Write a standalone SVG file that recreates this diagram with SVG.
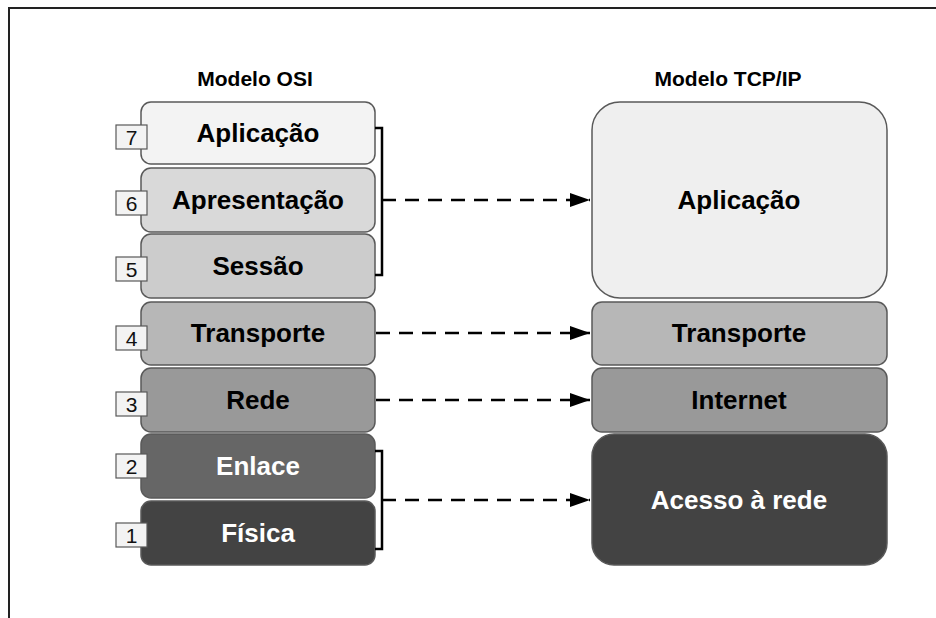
<svg xmlns="http://www.w3.org/2000/svg" width="936" height="618" viewBox="0 0 936 618">
<defs>
<style>
.box{stroke:#595959;stroke-width:1.5}
.lbl{font-family:"Liberation Sans",Arial,sans-serif;font-weight:bold;font-size:26px;text-anchor:middle}
.title{font-family:"Liberation Sans",Arial,sans-serif;font-weight:bold;font-size:21px;text-anchor:middle;fill:#000}
.num{fill:#f3f3f3;stroke:#595959;stroke-width:1.2}
.numt{font-family:"Liberation Sans",Arial,sans-serif;font-size:21px;text-anchor:middle;fill:#111}
.dark{fill:#000}
.light{fill:#fff}
.conn{fill:none;stroke:#000;stroke-width:2.5}
.dash{stroke-dasharray:14 9}
</style>
<marker id="arr" viewBox="0 0 20 14" refX="20" refY="7" markerWidth="20" markerHeight="14" markerUnits="userSpaceOnUse" orient="auto">
<path d="M0,0 L20,7 L0,14 z" fill="#000"/>
</marker>
</defs>
<rect width="936" height="618" fill="#fff"/>
<path d="M9,618 V8 H936" fill="none" stroke="#222" stroke-width="2"/>

<text class="title" x="255" y="86">Modelo OSI</text>
<text class="title" x="728" y="86">Modelo TCP/IP</text>

<g id="osi7"><rect class="box" x="141" y="102" width="234" height="62" rx="10" fill="#f3f3f3"/><text class="lbl dark" x="258" y="142">Aplicação</text><rect class="num" x="116" y="125" width="31" height="24"/><text class="numt" x="131.5" y="145">7</text></g>
<g id="osi6"><rect class="box" x="141" y="168" width="234" height="64" rx="10" fill="#d9d9d9"/><text class="lbl dark" x="258" y="209">Apresentação</text><rect class="num" x="116" y="191" width="31" height="24"/><text class="numt" x="131.5" y="211">6</text></g>
<g id="osi5"><rect class="box" x="141" y="234" width="234" height="64" rx="10" fill="#cccccc"/><text class="lbl dark" x="258" y="275">Sessão</text><rect class="num" x="116" y="257" width="31" height="24"/><text class="numt" x="131.5" y="277">5</text></g>
<g id="osi4"><rect class="box" x="141" y="302" width="234" height="63" rx="10" fill="#b7b7b7"/><text class="lbl dark" x="258" y="342">Transporte</text><rect class="num" x="116" y="326" width="31" height="24"/><text class="numt" x="131.5" y="346">4</text></g>
<g id="osi3"><rect class="box" x="141" y="368" width="234" height="64" rx="10" fill="#999999"/><text class="lbl dark" x="258" y="409">Rede</text><rect class="num" x="116" y="392" width="31" height="24"/><text class="numt" x="131.5" y="412">3</text></g>
<g id="osi2"><rect class="box" x="141" y="434" width="234" height="64" rx="10" fill="#666666"/><text class="lbl light" x="258" y="475">Enlace</text><rect class="num" x="116" y="454" width="31" height="24"/><text class="numt" x="131.5" y="474">2</text></g>
<g id="osi1"><rect class="box" x="141" y="501" width="234" height="64" rx="10" fill="#434343"/><text class="lbl light" x="258" y="542">Física</text><rect class="num" x="116" y="523" width="31" height="24"/><text class="numt" x="131.5" y="543">1</text></g>

<g id="tcp-app"><rect class="box" x="592" y="102" width="295" height="196" rx="28" fill="#efefef"/><text class="lbl dark" x="739" y="209">Aplicação</text></g>
<g id="tcp-transp"><rect class="box" x="592" y="302" width="295" height="63" rx="10" fill="#b7b7b7"/><text class="lbl dark" x="739" y="342">Transporte</text></g>
<g id="tcp-internet"><rect class="box" x="592" y="368" width="295" height="64" rx="10" fill="#999999"/><text class="lbl dark" x="739" y="409">Internet</text></g>
<g id="tcp-acesso"><rect class="box" x="592" y="434" width="295" height="131" rx="22" fill="#434343"/><text class="lbl light" x="739" y="509">Acesso à rede</text></g>

<g id="connectors">
<path class="conn" d="M375,128 H382 V275 H375"/>
<path class="conn" d="M375,451 H382 V549 H375"/>
<line class="conn dash" x1="382" y1="200" x2="590" y2="200" marker-end="url(#arr)"/>
<line class="conn dash" x1="376" y1="333" x2="590" y2="333" marker-end="url(#arr)"/>
<line class="conn dash" x1="376" y1="400" x2="590" y2="400" marker-end="url(#arr)"/>
<line class="conn dash" x1="382" y1="500" x2="590" y2="500" marker-end="url(#arr)"/>
</g>
</svg>
